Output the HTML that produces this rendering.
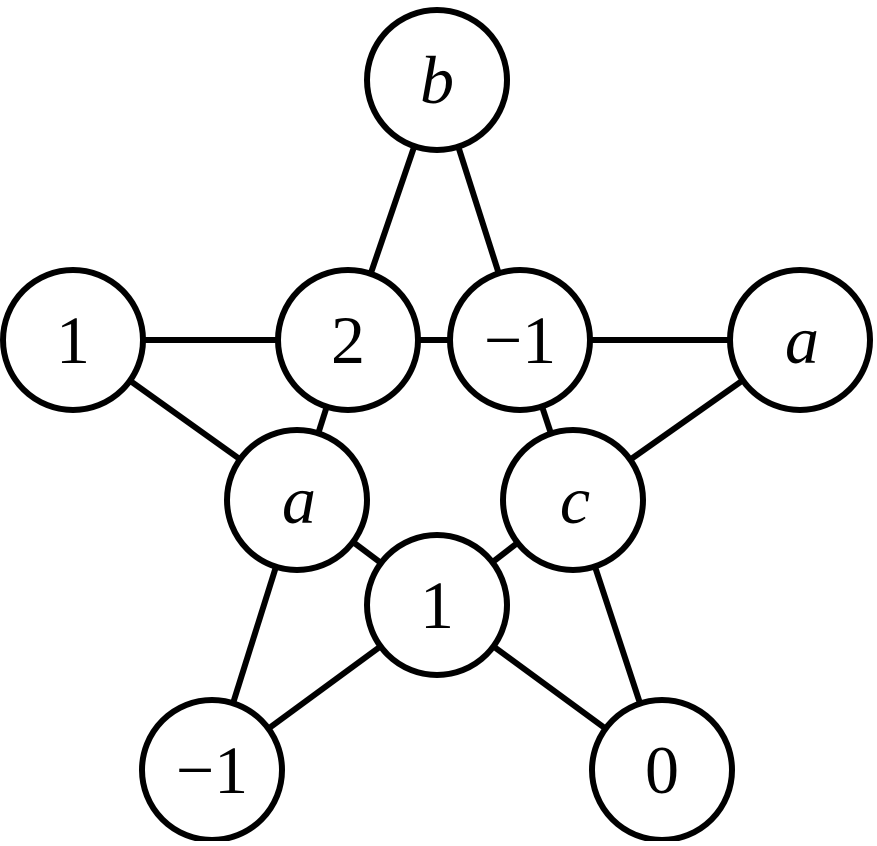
<!DOCTYPE html>
<html><head><style>html,body{margin:0;padding:0;background:#fff}</style></head>
<body>
<svg width="877" height="841" viewBox="0 0 877 841" xmlns="http://www.w3.org/2000/svg">
<g stroke="#000" stroke-width="6" fill="none">
<line x1="437" y1="80" x2="348" y2="340"/>
<line x1="437" y1="80" x2="520" y2="340"/>
<line x1="73" y1="340" x2="348" y2="340"/>
<line x1="348" y1="340" x2="520" y2="340"/>
<line x1="520" y1="340" x2="800" y2="340"/>
<line x1="73" y1="340" x2="297" y2="500"/>
<line x1="348" y1="340" x2="297" y2="500"/>
<line x1="520" y1="340" x2="573" y2="500"/>
<line x1="800" y1="340" x2="573" y2="500"/>
<line x1="297" y1="500" x2="437" y2="605"/>
<line x1="573" y1="500" x2="437" y2="605"/>
<line x1="297" y1="500" x2="212" y2="770"/>
<line x1="437" y1="605" x2="212" y2="770"/>
<line x1="437" y1="605" x2="662" y2="770"/>
<line x1="573" y1="500" x2="662" y2="770"/>
</g>
<g stroke="#000" stroke-width="6" fill="#fff">
<circle cx="437" cy="80" r="70"/>
<circle cx="73" cy="340" r="70"/>
<circle cx="348" cy="340" r="70"/>
<circle cx="520" cy="340" r="70"/>
<circle cx="800" cy="340" r="70"/>
<circle cx="297" cy="500" r="70"/>
<circle cx="573" cy="500" r="70"/>
<circle cx="437" cy="605" r="70"/>
<circle cx="212" cy="770" r="70"/>
<circle cx="662" cy="770" r="70"/>
</g>
<g font-family="Liberation Serif, serif" font-size="68" text-anchor="middle" fill="#000">
<text x="437" y="103" font-style="italic">b</text>
<text x="73" y="363">1</text>
<text x="348" y="363">2</text>
<text x="520" y="363">−1</text>
<text x="802" y="363" font-style="italic">a</text>
<text x="299" y="523" font-style="italic">a</text>
<text x="575" y="523" font-style="italic">c</text>
<text x="437" y="628">1</text>
<text x="212" y="793">−1</text>
<text x="662" y="793">0</text>
</g>
</svg>
</body></html>
